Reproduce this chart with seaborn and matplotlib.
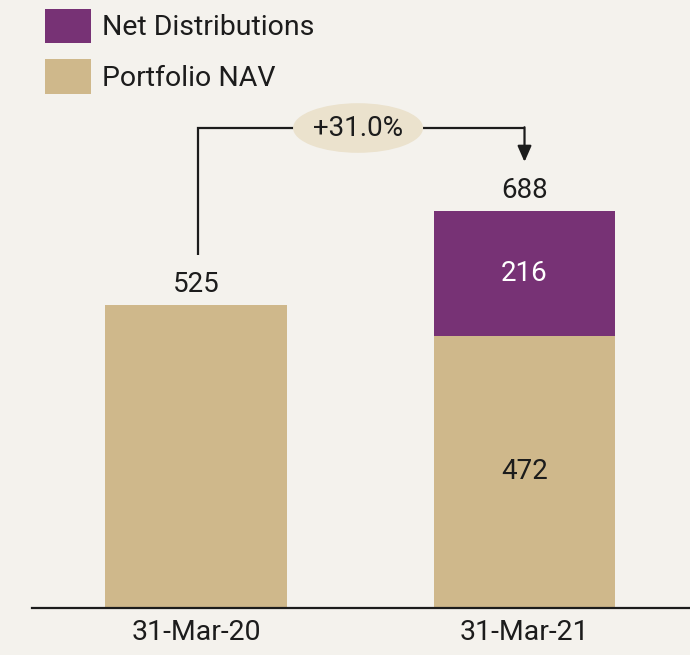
import matplotlib
matplotlib.use("Agg")
import matplotlib.pyplot as plt
from matplotlib.patches import Ellipse
import seaborn as sns
import pandas as pd

dates = ["31-Mar-20", "31-Mar-21"]
portfolio_nav = [525, 472]
net_distributions = [0, 216]
totals = [525, 688]
growth_label = "+31.0%"

BG = "#f4f2ed"
TAN = "#cfb88b"
PURPLE = "#773275"
INK = "#1c1c1c"

sns.set_theme(style="white")
FONT = ["Liberation Sans Narrow", "Roboto", "DejaVu Sans"]
plt.rcParams["font.family"] = FONT

fig = plt.figure(figsize=(6.9, 6.55), dpi=100, facecolor=BG)
ax = fig.add_axes([32 / 690, 47 / 655, 658 / 690, 608 / 655])
ax.set_facecolor(BG)

df = pd.DataFrame({"date": dates, "nav": portfolio_nav, "total": totals,
                   "dist": net_distributions})

sns.barplot(data=df, x="date", y="total", color=PURPLE, width=0.554,
            saturation=1, ax=ax, label="Net Distributions", linewidth=0,
            edgecolor="none")
sns.barplot(data=df, x="date", y="nav", color=TAN, width=0.554,
            saturation=1, ax=ax, label="Portfolio NAV", linewidth=0,
            edgecolor="none")
handles, labels = ax.get_legend_handles_labels()
if ax.get_legend() is not None:
    ax.get_legend().remove()

ax.set_xlim(-0.5, 1.504)
ax.set_ylim(0, 1053.5)
ax.set_xlabel("")
ax.set_ylabel("")
ax.set_yticks([])
for s in ["top", "right", "left"]:
    ax.spines[s].set_visible(False)
ax.spines["bottom"].set_color(INK)
ax.spines["bottom"].set_linewidth(1.6)
ax.tick_params(axis="x", length=0, pad=8, labelsize=20.5, labelcolor=INK)

fs = 20
# value labels
for i, (n, d, t) in enumerate(zip(portfolio_nav, net_distributions, totals)):
    ax.text(i, t + 12, f"{t}", ha="center", va="bottom", fontsize=fs, color=INK)
    if d > 0:
        ax.text(i, n / 2, f"{n}", ha="center", va="center", fontsize=fs, color=INK)
        ax.text(i, n + d / 2, f"{d}", ha="center", va="center", fontsize=fs, color="white")

# growth connector
y_top = 831.7
ax.plot([0.006, 0.006, 1.0], [611.7, y_top, y_top], color=INK, lw=1.6,
        solid_joinstyle="miter", solid_capstyle="butt")
ax.annotate("", xy=(1.0, 773), xytext=(1.0, y_top + 1.3),
            arrowprops=dict(arrowstyle="-|>,head_length=0.8,head_width=0.35",
                            color=INK, lw=1.6, shrinkA=0, shrinkB=0))
ax.add_patch(Ellipse((0.493, y_top), 0.396, 86, facecolor="#ebe2cd",
                     edgecolor="none", zorder=5))
ax.text(0.493, y_top, growth_label, ha="center", va="center", fontsize=fs,
        color=INK, zorder=6)

# legend
leg = fig.legend(handles, labels, loc="upper left",
                 bbox_to_anchor=(36 / 690, 1 - 0 / 655),
                 frameon=False, fontsize=20.5, handlelength=1.62,
                 handleheight=1.5, handletextpad=0.4, labelspacing=0.55,
                 borderaxespad=0, borderpad=0.3)
for t in leg.get_texts():
    t.set_color(INK)

fig.savefig("out.png", dpi=100, facecolor=BG)
